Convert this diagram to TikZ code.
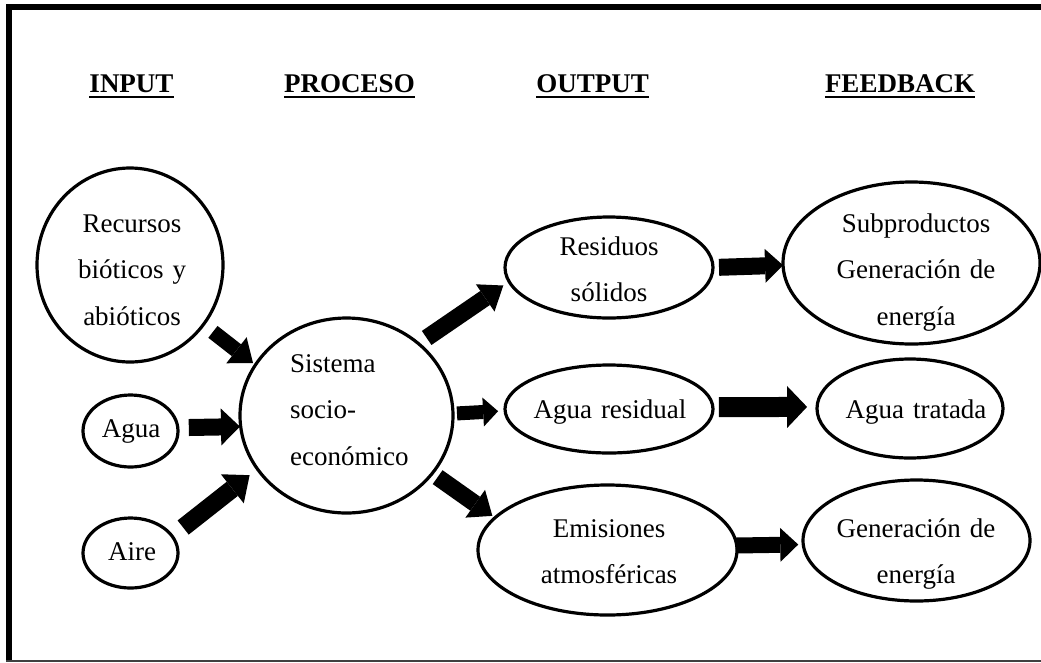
\documentclass[tikz,border=0pt]{standalone}
\usepackage{fontspec}
\setmainfont{Liberation Serif}
\usetikzlibrary{shapes.geometric,arrows.meta}

\newcommand\bodysize{\fontsize{27}{46.5}\selectfont}

\tikzset{
  bub/.style={ellipse, draw, line width=3.2pt, inner sep=0pt, outer sep=0pt},
  lbl/.style={font=\bodysize, text width=230pt, align=center, inner sep=0pt, anchor=base},
  head/.style={font=\bodysize\bfseries, inner sep=0pt, anchor=base},
  uline/.style={line width=2pt},
  blk/.style n args={3}{line width=#1, -{Triangle[width=#2,length=#3,line width=0pt]}},
  frame/.style={line width=5.8pt},
}

\begin{document}
\begin{tikzpicture}[x=1pt,y=-1pt]
\useasboundingbox (0,0) rectangle (1041,662);

% outer frame
\draw[frame] (9,7.2) -- (1041,7.2);
\draw[frame] (9,4.3) -- (9,662);
\draw[line width=1.6pt, black!75] (6,661) -- (1041,661);

% column headings
\node[head] (hin)  at (131.5,92) {INPUT};
\node[head] (hpro) at (349.5,92) {PROCESO};
\node[head] (hout) at (592.5,92) {OUTPUT};
\node[head] (hfb)  at (900,92)   {FEEDBACK};
\foreach \h in {hin,hpro,hout,hfb}
  \draw[uline] ([yshift=-4.5pt]\h.base west) -- ([yshift=-4.5pt]\h.base east);

% inputs
\node[bub, minimum width=186pt, minimum height=194pt] (rec) at (130,265) {};
\node[lbl] (rect) at (132,232) {Recursos\\bióticos y\\abióticos};
\node[bub, minimum width=95pt, minimum height=72pt] (agua) at (130.5,431) {};
\node[lbl] (aguat) at (131,437) {Agua};
\node[bub, minimum width=95pt, minimum height=70pt] (aire) at (130.5,553) {};
\node[lbl] (airet) at (132,560) {Aire};

% process
\node[bub, minimum width=213pt, minimum height=195pt] (sis) at (346.5,415.5) {};
\node[font=\bodysize, text width=140pt, align=left, inner sep=0pt, anchor=base west]
  (sist) at (290,372) {Sistema\\socio-\\económico};

% outputs
\node[bub, minimum width=208pt, minimum height=101pt] (res) at (609,267.5) {};
\node[lbl] (rest) at (609,255) {Residuos\\sólidos};
\node[bub, minimum width=208pt, minimum height=88pt] (ares) at (609,409) {};
\node[lbl] (arest) at (610,418) {Agua residual};
\node[bub, minimum width=259pt, minimum height=130pt] (emi) at (607.5,550) {};
\node[lbl] (emit) at (609,537) {Emisiones\\atmosféricas};

% feedback
\node[bub, minimum width=257pt, minimum height=162pt] (sub) at (911.5,263) {};
\node[lbl] (subt) at (916,232) {Subproductos\\Generación de\\energía};
\node[bub, minimum width=186pt, minimum height=99pt] (atr) at (910,408.5) {};
\node[lbl] (atrt) at (916,418) {Agua tratada};
\node[bub, minimum width=227pt, minimum height=121pt] (gen) at (916.5,540.5) {};
\node[lbl] (gent) at (916,537) {Generación de\\energía};

% flows into the process
\draw[blk={15pt}{33pt}{21pt}, shorten <=12pt, shorten >=3pt] (rec.-39) -- (sis.151);
\draw[blk={17pt}{37pt}{19pt}, shorten <=11pt, shorten >=0.7pt] (agua.4.8) -- (sis.186.2);
\draw[blk={18pt}{37pt}{22pt}, shorten <=14pt, shorten >=10pt] (aire.22.9) -- (sis.211.6);

% flows out of the process
\draw[blk={17pt}{33pt}{22pt}, shorten <=10pt, shorten >=7pt] (sis.45.8) -- (res.188.6);
\draw[blk={14pt}{29pt}{15pt}, shorten <=4pt, shorten >=7pt] (sis.1.9) -- (ares.181.7);
\draw[blk={17pt}{34pt}{21pt}, shorten <=6.6pt, shorten >=3.3pt] (sis.-34.5) -- (emi.164.7);

% feedback flows
\draw[blk={17pt}{34pt}{18pt}, shorten <=6pt, shorten >=0pt] (res.0.8) -- (sub.181.3);
\draw[blk={20pt}{42pt}{20pt}, shorten <=6pt, shorten >=10pt] (ares.1.1) -- (atr.179.1);
\draw[blk={16pt}{34pt}{18pt}, shorten <=-1pt, shorten >=5pt] (emi.2.2) -- (gen.182.3);
\end{tikzpicture}
\end{document}
